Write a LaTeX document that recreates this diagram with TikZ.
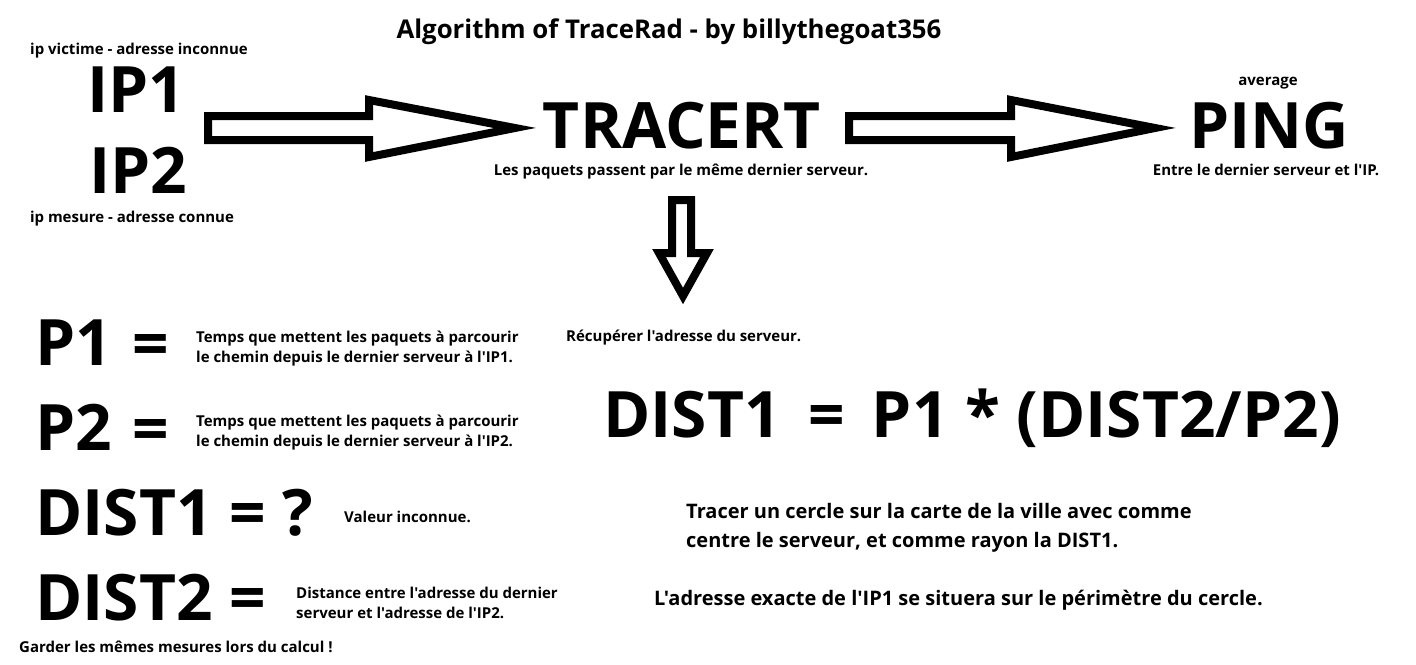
\documentclass[tikz,border=0pt]{standalone}
\usepackage{fontspec}
\setmainfont{Open Sans}[Ligatures=TeXOff]

\begin{document}
\begin{tikzpicture}[x=1pt,y=-1pt,every node/.style={inner sep=0pt,font=\bfseries},titletxt/.style={font=\fontsize{25.8}{30}\selectfont\bfseries},hugetxt/.style={font=\fontsize{64}{64}\selectfont\bfseries},notetxt/.style={font=\fontsize{15}{20}\selectfont\bfseries,align=left},midtxt/.style={font=\fontsize{20}{29}\selectfont\bfseries,align=left},hollow/.style={draw,line width=8pt,fill=white,line join=miter}]
\useasboundingbox (0,0) rectangle (1416,664);
\node[titletxt] (title) at (669,32) {Algorithm of TraceRad - by billythegoat356};
% top row
\node[notetxt] (victim) at (139,51) {ip victime - adresse inconnue};
\node[hugetxt,anchor=base] (ipA) at (136,112) {IP1};
\node[hugetxt,anchor=base] (ipB) at (138,193) {IP2};
\node[notetxt] (measure) at (132,219) {ip mesure - adresse connue};
\node[hugetxt,anchor=base] (tracert) at (682,148) {TRACERT};
\node[notetxt] (samesrv) at (681,172) {Les paquets passent par le même dernier serveur.};
\node[notetxt] (avg) at (1268,83) {average};
\node[hugetxt,anchor=base] (ping) at (1269,148) {PING};
\node[notetxt] (between) at (1266,170) {Entre le dernier serveur et l'IP.};
\draw[hollow] (208,116) -- (369,116) -- (369,100) -- (515,128) -- (369,157) -- (369,140) -- (208,140) -- cycle;
\draw[hollow] (849,116) -- (1011,116) -- (1011,100) -- (1155,128) -- (1011,157) -- (1011,140) -- (849,140) -- cycle;
\draw[hollow] (672,200) -- (691,200) -- (691,253) -- (707,253) -- (683,296) -- (659,253) -- (672,253) -- cycle;
% definitions
\node[hugetxt,anchor=base west] (pA) at (35,365) {P1};
\node[hugetxt,anchor=base] (eqA) at (151,366) {=};
\node[notetxt,anchor=west] (pAtxt) at (196,349) {Temps que mettent les paquets à parcourir\\le chemin depuis le dernier serveur à l'IP1.};
\node[notetxt,anchor=west] (fetch) at (566,338) {Récupérer l'adresse du serveur.};
\node[hugetxt,anchor=base west] (pB) at (35,450) {P2};
\node[hugetxt,anchor=base] (eqB) at (151,451) {=};
\node[notetxt,anchor=west] (pBtxt) at (196,433) {Temps que mettent les paquets à parcourir\\le chemin depuis le dernier serveur à l'IP2.};
\node[hugetxt,anchor=base] (formula) at (972,437) {DIST1\,\ =\ \,P1 * (DIST2/P2)};
\node[hugetxt,anchor=base west] (dA) at (35,535) {DIST1 = ?};
\node[notetxt,anchor=west] (dAtxt) at (344,517) {Valeur inconnue.};
\node[midtxt,anchor=west] (circle) at (686,528) {Tracer un cercle sur la carte de la ville avec comme\\centre le serveur, et comme rayon la DIST1.};
\node[hugetxt,anchor=base west] (dB) at (35,620) {DIST2 =};
\node[notetxt,anchor=west] (dBtxt) at (296,603) {Distance entre l'adresse du dernier\\serveur et l'adresse de l'IP2.};
\node[midtxt,anchor=west] (result) at (654,600) {L'adresse exacte de l'IP1 se situera sur le périmètre du cercle.};
\node[notetxt,anchor=west] (keep) at (19,647) {Garder les mêmes mesures lors du calcul !};
\end{tikzpicture}
\end{document}
